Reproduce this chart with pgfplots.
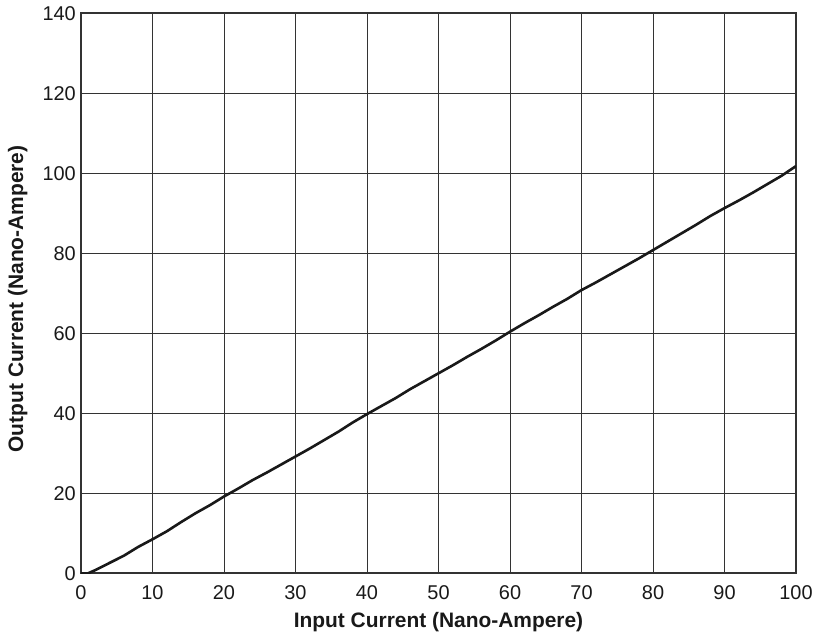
\documentclass[border=0pt]{standalone}
\usepackage{fontspec}
\setmainfont{Liberation Sans}
\usepackage{pgfplots}
\pgfplotsset{compat=1.18}
\begin{document}
\begin{tikzpicture}
\begin{axis}[
  scale only axis,
  width=715bp, height=560bp,
  xmin=0, xmax=100, ymin=0, ymax=140,
  xtick={0,10,...,100}, ytick={0,20,...,140},
  grid=major,
  major grid style={black!80, line width=1bp},
  axis line style={black!80, line width=1.8bp},
  tick style={draw=none},
  /pgf/number format/assume math mode=true,
  xticklabel style={font=\fontsize{20}{22}\selectfont, anchor=north, inner sep=0pt, yshift=-12bp, text=black!90},
  yticklabel style={font=\fontsize{20}{22}\selectfont, anchor=east, inner sep=0pt, xshift=-5bp, text=black!90},
  xlabel={Input Current (Nano-Ampere)},
  ylabel={Output Current (Nano-Ampere)},
  xlabel style={font=\fontsize{21}{23}\selectfont\bfseries, at={(axis description cs:0.5,-0.0964)}, anchor=base, inner sep=0pt, text=black!90},
  ylabel style={font=\fontsize{21}{23}\selectfont\bfseries, at={(axis description cs:-0.0811,0.49)}, anchor=base, inner sep=0pt, text=black!90},
]
\addplot[black!90, line width=2.6bp, line join=round] coordinates {
(0,0) (1,0) (2,0.8) (4,2.6) (6,4.4) (8,6.6) (10,8.5) (12,10.5) (14,12.8) (16,15) (18,17) (20,19.2) (22,21.2) (24,23.3) (26,25.2) (28,27.2) (30,29.2) (32,31.2) (34,33.3) (36,35.4) (38,37.7) (40,39.8) (42,41.8) (44,43.8) (46,46) (48,48) (50,50) (52,52) (54,54.1) (56,56.1) (58,58.2) (60,60.4) (62,62.5) (64,64.5) (66,66.6) (68,68.6) (70,70.8) (72,72.7) (74,74.7) (76,76.7) (78,78.7) (80,80.8) (82,82.9) (84,85) (86,87.1) (88,89.3) (90,91.3) (92,93.2) (94,95.2) (96,97.3) (98,99.4) (100,101.8)
};
\end{axis}
\path[use as bounding box] (current axis.south west) ++(-81bp,-61.7bp) rectangle ++(816bp,635bp);
\end{tikzpicture}
\end{document}
